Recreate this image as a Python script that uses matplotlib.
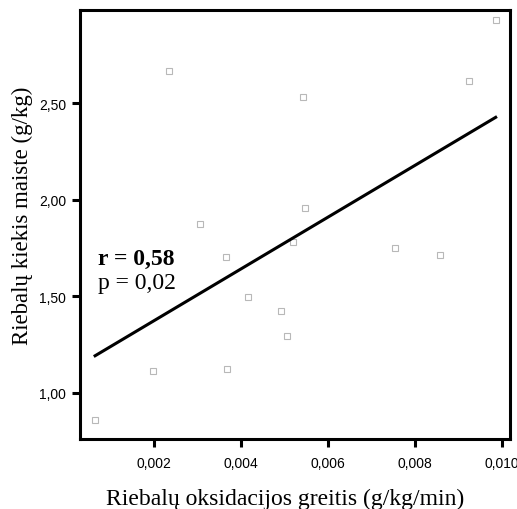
import matplotlib
matplotlib.use("Agg")
import matplotlib.pyplot as plt
import numpy as np

# riebalu oksidacijos greitis (g/kg/min) vs riebalu kiekis maiste (g/kg)
oxid_rate = [0.00064, 0.00196, 0.00234, 0.00306, 0.00364, 0.00368, 0.00416, 0.00491,
             0.00505, 0.00519, 0.00543, 0.00546, 0.00753, 0.00857, 0.00923, 0.00985]
fat_intake = [0.860, 1.115, 2.668, 1.875, 1.705, 1.124, 1.498, 1.426,
              1.297, 1.780, 2.534, 1.956, 1.751, 1.716, 2.613, 2.932]

# regression line as drawn in the picture
fit_slope = 134.0
fit_intercept = 1.107

x_ticks = [0.002, 0.004, 0.006, 0.008, 0.010]
x_labels = ["0,002", "0,004", "0,006", "0,008", "0,010"]
y_ticks = [1.00, 1.50, 2.00, 2.50]
y_labels = ["1,00", "1,50", "2,00", "2,50"]

fig = plt.figure(figsize=(5.17, 5.10), dpi=100)
ax = fig.add_axes([0.1547, 0.1373, 0.8318, 0.8421])

ax.plot(oxid_rate, fat_intake, linestyle="none", marker="s", markersize=4.2,
        markerfacecolor="white", markeredgecolor="#b8b8b8", markeredgewidth=0.8)

xs = np.array([min(oxid_rate), max(oxid_rate)])
ax.plot(xs, fit_intercept + fit_slope * xs, color="black", linewidth=2.2)

ax.set_xlim(0.000292, 0.01018)
ax.set_ylim(0.762, 2.985)
ax.set_xticks(x_ticks)
ax.set_xticklabels(x_labels, fontfamily="Liberation Sans", fontsize=10)
ax.set_yticks(y_ticks)
ax.set_yticklabels(y_labels, fontfamily="Liberation Sans", fontsize=10)
ax.tick_params(direction="out", length=6, width=2.2, pad=4)
ax.tick_params(axis="x", pad=6)

for s in ax.spines.values():
    s.set_linewidth(2.2)

ax.set_xlabel("Riebalų oksidacijos greitis (g/kg/min)", fontfamily="Liberation Serif",
              fontsize=17, labelpad=13)
ax.set_ylabel("Riebalų kiekis maiste (g/kg)", fontfamily="Liberation Serif",
              fontsize=16.5, labelpad=4)
# labels sit a bit off-centre in the original
ax.xaxis.label.set_x(0.477)
ax.yaxis.label.set_y(0.521)

ax.text(0.0007, 1.668, "r = 0,58", fontfamily="Liberation Serif", fontsize=17,
        fontweight="bold", va="baseline")
ax.text(0.0007, 1.543, "p = 0,02", fontfamily="Liberation Serif", fontsize=17,
        va="baseline")

fig.savefig("out.png", dpi=100)
